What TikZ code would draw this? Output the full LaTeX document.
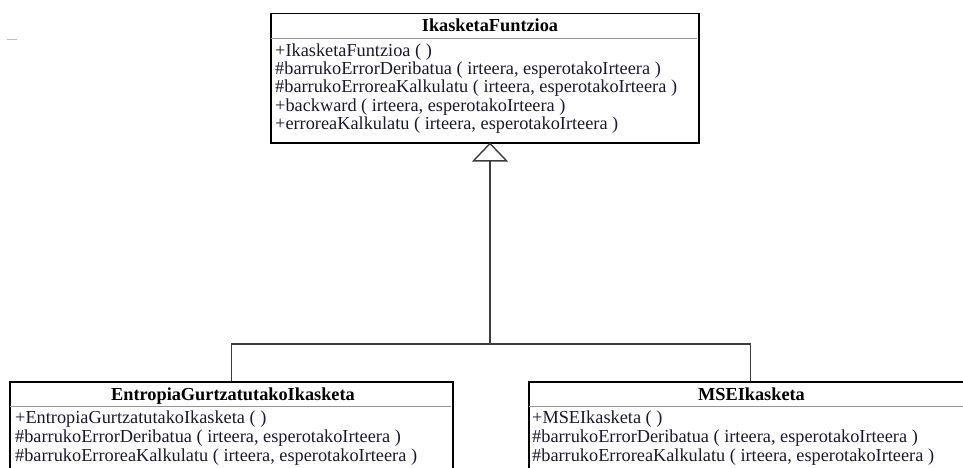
\documentclass[tikz,border=0pt]{standalone}
\usepackage{fontspec}
\setmainfont{Liberation Serif}
\usetikzlibrary{arrows.meta}
\definecolor{ink}{RGB}{28,24,48}
\definecolor{wire}{RGB}{60,60,60}
\definecolor{rule}{RGB}{150,150,150}
\tikzset{
  classbox/.style={draw=black, line width=1.5pt, fill=white, rectangle,
    anchor=north west, inner sep=0pt},
  classname/.style={anchor=base, inner sep=0pt, text=black,
    font=\fontsize{18.3}{18.3}\selectfont\bfseries},
  member/.style={anchor=base west, inner sep=0pt, text=ink,
    font=\fontsize{18.3}{18.3}\selectfont},
  divider/.style={draw=rule, line width=1.8pt},
  wireline/.style={draw=wire, line width=1.4pt},
  inherit/.style={wireline, -{Triangle[open, length=19pt, width=36pt, line width=1.4pt]}}
}
\begin{document}
\begin{tikzpicture}[x=1pt, y=-1pt]
\useasboundingbox (0,0) rectangle (963,468);

% stray mark near the top-left corner
\draw[draw=rule!60, line width=1pt] (7,40) -- (17,40);

% ---------- base class ----------
\node[classbox, minimum width=428pt, minimum height=129pt] (base) at (270,13) {};
\draw[divider] (270.8,38.5) -- (697.2,38.5);
\node[classname] (baseT) at (490,32) {IkasketaFuntzioa};
\node[member] (b1) at (275,57)  {+IkasketaFuntzioa ( )};
\node[member] (b2) at (275,75)  {\#barrukoErrorDeribatua ( irteera, esperotakoIrteera )};
\node[member] (b3) at (275,93)  {\#barrukoErroreaKalkulatu ( irteera, esperotakoIrteera )};
\node[member] (b4) at (275,111.5) {+backward ( irteera, esperotakoIrteera )};
\node[member] (b5) at (275,130) {+erroreaKalkulatu ( irteera, esperotakoIrteera )};

% ---------- subclass: EntropiaGurtzatutakoIkasketa ----------
\node[classbox, minimum width=443pt, minimum height=110pt] (ent) at (9,381) {};
\draw[divider] (9.8,406.5) -- (451.2,406.5);
\node[classname] (entT) at (233,400) {EntropiaGurtzatutakoIkasketa};
\node[member] (e1) at (15,423) {+EntropiaGurtzatutakoIkasketa ( )};
\node[member] (e2) at (15,442) {\#barrukoErrorDeribatua ( irteera, esperotakoIrteera )};
\node[member] (e3) at (15,461) {\#barrukoErroreaKalkulatu ( irteera, esperotakoIrteera )};

% ---------- subclass: MSEIkasketa ----------
\node[classbox, minimum width=443pt, minimum height=110pt] (mse) at (528,381) {};
\draw[divider] (528.8,406.5) -- (970,406.5);
\node[classname] (mseT) at (751.5,400) {MSEIkasketa};
\node[member] (s1) at (532,423) {+MSEIkasketa ( )};
\node[member] (s2) at (532,442) {\#barrukoErrorDeribatua ( irteera, esperotakoIrteera )};
\node[member] (s3) at (532,461) {\#barrukoErroreaKalkulatu ( irteera, esperotakoIrteera )};

% ---------- generalisation ----------
\coordinate (hub) at (490,344);
\coordinate (apex) at (490,142.5);
\draw[wireline] (ent.north) |- (hub) -| (mse.north);
\draw[inherit] (hub) -- (apex);
\end{tikzpicture}
\end{document}
